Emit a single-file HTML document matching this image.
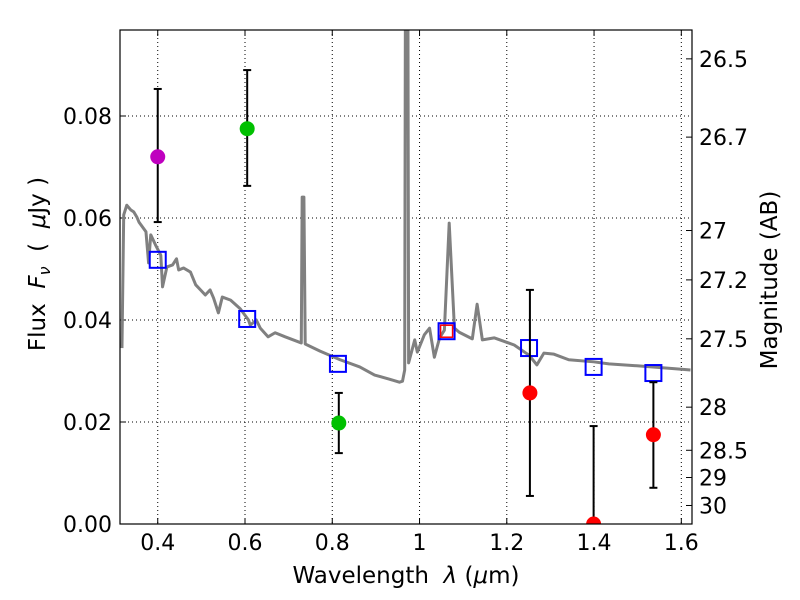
<!DOCTYPE html>
<html><head><meta charset="utf-8"><style>
body{margin:0;background:#fff;}
svg{display:block;font-family:"DejaVu Sans","Liberation Sans",sans-serif;}
</style></head><body>
<svg id="c" width="800" height="600" viewBox="0 0 800 600"></svg>
<script>
const specWave=[0.318,0.322,0.329,0.338,0.345,0.352,0.357,0.373,0.379,0.384,0.395,0.407,0.411,0.421,0.434,0.443,0.448,0.459,0.475,0.487,0.498,0.509,0.520,0.528,0.539,0.548,0.567,0.589,0.608,0.612,0.626,0.635,0.653,0.669,0.692,0.729,0.731,0.735,0.738,0.772,0.818,0.863,0.897,0.931,0.954,0.961,0.966,0.968,0.973,0.975,0.989,0.995,1.011,1.023,1.034,1.046,1.057,1.068,1.080,1.091,1.121,1.132,1.144,1.171,1.217,1.251,1.269,1.285,1.308,1.342,1.399,1.434,1.502,1.593,1.621];
const specFlux=[0.0345,0.0606,0.0625,0.0616,0.0612,0.0602,0.0592,0.0573,0.0512,0.0567,0.0547,0.0527,0.0465,0.0504,0.0508,0.0520,0.0498,0.0502,0.0494,0.0469,0.0459,0.0449,0.0459,0.0443,0.0414,0.0445,0.0439,0.0422,0.0400,0.0390,0.0400,0.0384,0.0367,0.0375,0.0367,0.0355,0.0641,0.0641,0.0353,0.0339,0.0322,0.0308,0.0292,0.0284,0.0278,0.0280,0.0302,0.12,0.12,0.0316,0.0361,0.0337,0.0371,0.0384,0.0327,0.0365,0.0380,0.0590,0.0384,0.0376,0.0363,0.0431,0.0361,0.0365,0.0351,0.0331,0.0312,0.0335,0.0333,0.0322,0.0318,0.0314,0.0310,0.0304,0.0302];
const modelWave=[0.400,0.605,0.813,1.062,1.251,1.399,1.536];
const modelFlux=[0.0518,0.0402,0.0314,0.0378,0.0345,0.0308,0.0296];
const obsWave=[0.400,0.605,0.815,1.253,1.399,1.536];
const obsFlux=[0.0720,0.0775,0.0198,0.0257,0.0,0.0175];
const obsHi=[0.0853,0.0890,0.0257,0.0459,0.0192,0.0278];
const obsLo=[0.0592,0.0663,0.0139,0.0055,-0.01,0.0071];
const obsColor=['#bf00bf','#00c000','#00c000','#ff0000','#ff0000','#ff0000'];
const xTicks=[0.4,0.6,0.8,1.0,1.2,1.4,1.6];
const xTickLabels=['0.4','0.6','0.8','1','1.2','1.4','1.6'];
const yTicks=[0,0.02,0.04,0.06,0.08];
const yTickLabels=['0.00','0.02','0.04','0.06','0.08'];
const magTicks=[26.5,26.7,27,27.2,27.5,28,28.5,29,30];

const L=120,R=692,T=30,B=524;
const X0=0.3135,X1=1.6245,Y0=0,Y1=0.09686;
const sx=v=>L+(v-X0)/(X1-X0)*(R-L);
const sy=v=>B-(v-Y0)/(Y1-Y0)*(B-T);
const magToFlux=m=>Math.pow(10,(23.9-m)/2.5);
const svg=document.getElementById('c');
const NS='http://www.w3.org/2000/svg';
function mk(t,a,p){const e=document.createElementNS(NS,t);for(const k in a)e.setAttribute(k,a[k]);(p||svg).appendChild(e);return e;}

const defs=mk('defs',{});const cp=mk('clipPath',{id:'cp'},defs);mk('rect',{x:L,y:T,width:R-L,height:B-T},cp);

xTicks.forEach((v,i)=>{
  const g=mk('line',{x1:sx(v),x2:sx(v),y1:T,y2:B,stroke:'#000','stroke-width':1,'stroke-dasharray':'1,3'});
  
  
  mk('line',{x1:sx(v),x2:sx(v),y1:B,y2:B-6,stroke:'#000'});
  mk('line',{x1:sx(v),x2:sx(v),y1:T,y2:T+6,stroke:'#000'});
  const t=mk('text',{x:sx(v),y:B+26,'font-size':22,'text-anchor':'middle'});t.textContent=xTickLabels[i];
  
  
});
yTicks.forEach((v,i)=>{
  const g=mk('line',{x1:L,x2:R,y1:sy(v),y2:sy(v),stroke:'#000','stroke-width':1,'stroke-dasharray':'1,3'});
  
  
  mk('line',{x1:L,x2:L+6,y1:sy(v),y2:sy(v),stroke:'#000'});
  const t=mk('text',{x:L-8,y:sy(v)+8,'font-size':22,'text-anchor':'end'});t.textContent=yTickLabels[i];
  
  
});
magTicks.forEach(m=>{
  const y=sy(magToFlux(m));
  mk('line',{x1:R,x2:R-6,y1:y,y2:y,stroke:'#000'});
  const t=mk('text',{x:R+7,y:y+8,'font-size':22});t.textContent=String(m);
  
  
});

const g=mk('g',{'clip-path':'url(#cp)'});
const sp=mk('polyline',{points:specWave.map((w,i)=>sx(w)+','+sy(specFlux[i])).join(' '),fill:'none',stroke:'#808080','stroke-width':3,'stroke-linejoin':'round'},g);



modelWave.forEach((w,i)=>{
  const r=mk('rect',{x:sx(w)-8,y:sy(modelFlux[i])-8,width:16,height:16,fill:'none',stroke:'#0000ff','stroke-width':2},g);
  
  
});
const rs=mk('rect',{x:sx(modelWave[3])-6,y:sy(modelFlux[3])-6,width:12,height:12,fill:'none',stroke:'#ff0000','stroke-width':1.5},g);



obsWave.forEach((w,i)=>{
  const x=sx(w);
  const e=mk('g',{},g);
  
  
  mk('line',{x1:x,x2:x,y1:sy(obsHi[i]),y2:sy(obsLo[i]),stroke:'#000','stroke-width':2},e);
  mk('line',{x1:x-4,x2:x+4,y1:sy(obsHi[i]),y2:sy(obsHi[i]),stroke:'#000','stroke-width':2},e);
  mk('line',{x1:x-4,x2:x+4,y1:sy(obsLo[i]),y2:sy(obsLo[i]),stroke:'#000','stroke-width':2},e);
  const c=mk('circle',{cx:x,cy:sy(obsFlux[i]),r:7.5,fill:obsColor[i]},g);
  
  
});

const fr=mk('rect',{x:L,y:T,width:R-L,height:B-T,fill:'none',stroke:'#000','stroke-width':1.2});


</script>
<svg style="position:absolute;left:0;top:0" width="800" height="600" xml:space="preserve">
<text x="406" y="583" font-size="23" text-anchor="middle" font-family="DejaVu Sans, sans-serif" xml:space="preserve">Wavelength  <tspan font-style="italic">λ</tspan> (<tspan font-style="italic">μ</tspan>m)</text>
<text transform="translate(45,264) rotate(-90)" font-size="23" text-anchor="middle" font-family="DejaVu Sans, sans-serif" xml:space="preserve">Flux  <tspan font-style="italic">F</tspan><tspan font-style="italic" font-size="16" dy="5">ν</tspan><tspan dy="-5">  (  </tspan><tspan font-style="italic">μ</tspan>Jy )</text>
<text transform="translate(777,280) rotate(-90)" font-size="23" text-anchor="middle" font-family="DejaVu Sans, sans-serif">Magnitude (AB)</text>
</svg>
</body></html>
